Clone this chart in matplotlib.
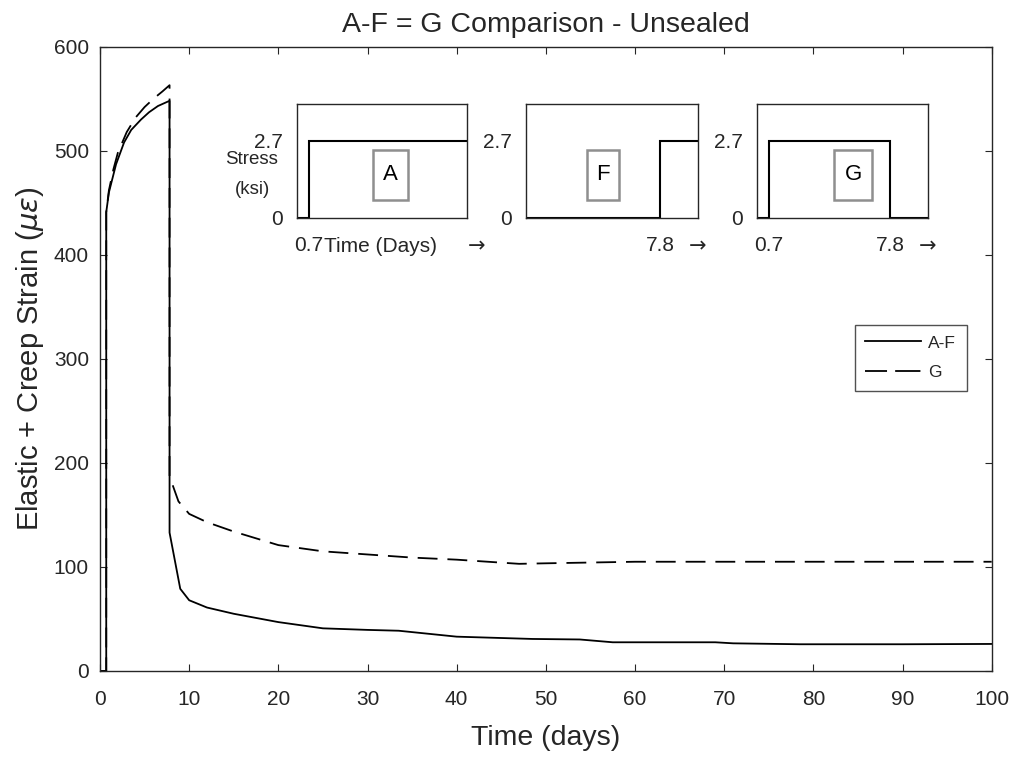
import matplotlib
matplotlib.use("Agg")
import matplotlib.pyplot as plt
from matplotlib.patches import Rectangle

plt.rcParams['font.family'] = ['Liberation Sans', 'DejaVu Sans']
plt.rcParams['mathtext.fontset'] = 'dejavusans'

TXT = '#262626'

# Strain histories (days, microstrain)
t_af = [0, 0.7, 0.7, 1.0, 1.8, 2.7, 3.5, 4.6, 5.5, 6.5, 7.8, 7.8, 9.0, 10.0,
        12.0, 15.0, 20.0, 25.0, 30.0, 33.5, 40.0, 48.5, 53.8, 57.5, 69.0, 71.0,
        78.5, 90.0, 100.0]
strain_af = [0, 0, 441, 460, 487, 508, 520, 530, 537, 543, 548, 133, 79, 68,
             61, 55, 47, 41, 39.5, 38.7, 33, 30.8, 30.3, 27.6, 27.6, 26.6,
             25.7, 25.7, 26]

t_g = [0, 0.7, 0.7, 1.0, 1.5, 2.0, 3.0, 4.0, 5.0, 6.0, 7.0, 7.8, 7.8, 8.8, 10.0,
       12.0, 15.0, 20.0, 25.0, 30.0, 35.0, 40.0, 47.0, 50.0, 60.0, 100.0]
strain_g = [0, 0, 441, 462, 482, 498, 518, 532, 542, 550, 557, 563, 187, 163, 151,
            143, 134, 121, 115, 112, 109, 107, 103, 103.5, 105, 105]

series_labels = ['A-F', 'G']

# Loading schedules for the inset sketches (days, ksi)
stress_level = 2.7
load_on = 0.7
load_off = 7.8
sched_t = {
    'A': [0, load_on, load_on, 10],
    'F': [0, load_off, load_off, 10],
    'G': [0, load_on, load_on, load_off, load_off, 10],
}
sched_s = {
    'A': [0, 0, stress_level, stress_level],
    'F': [0, 0, stress_level, stress_level],
    'G': [0, 0, stress_level, stress_level, 0, 0],
}

W, H = 1016, 757
fig = plt.figure(figsize=(W / 100, H / 100), dpi=100)
ax_l, ax_r, ax_t, ax_b = 100, 991.7, 46.7, 671
ax = fig.add_axes([ax_l / W, 1 - ax_b / H, (ax_r - ax_l) / W, (ax_b - ax_t) / H])

dash = (0, (11, 5.5))
ax.plot(t_af, strain_af, color='black', lw=1.3, label=series_labels[0])
ax.plot(t_g, strain_g, color='black', lw=1.3, ls=dash, label=series_labels[1])

ax.set_xlim(0, 100)
ax.set_ylim(0, 600)
ax.set_xticks(range(0, 101, 10))
ax.set_yticks(range(0, 601, 100))
ax.tick_params(direction='in', top=True, right=True, length=5, width=0.8,
               labelsize=15, colors=TXT, labelcolor=TXT)
ax.tick_params(axis='x', pad=14)
ax.tick_params(axis='y', pad=8)
for sp in ax.spines.values():
    sp.set_linewidth(1.0)
    sp.set_color(TXT)

ax.set_title('A-F = G Comparison - Unsealed', fontsize=20.5, color=TXT, pad=10.8)
ax.set_xlabel('Time (days)', fontsize=20.5, color=TXT)
ax.xaxis.set_label_coords(0.5, -0.087)
ax.set_ylabel(r'Elastic + Creep Strain ($\mu\epsilon$)', fontsize=21, color=TXT)
ax.yaxis.set_label_coords(-0.061, 0.5)

leg = ax.legend(loc='upper right', bbox_to_anchor=((966.7 - ax_l) / (ax_r - ax_l),
                                                   (ax_b - 325) / (ax_b - ax_t)),
                fontsize=12.5, frameon=True, fancybox=False, handlelength=3.25,
                handletextpad=0.4, borderpad=0.6, labelspacing=0.85,
                borderaxespad=0)
leg.get_frame().set_edgecolor(TXT)
leg.get_frame().set_linewidth(1.0)
leg.legend_handles[1].set_linestyle((0, (12.2, 4.5, 14.0, 4.5)))
for txt in leg.get_texts():
    txt.set_color(TXT)

# Inset loading sketches: left edge, width (px) and label-box centre / width (px)
inset_left = {'A': 296.7, 'F': 526.0, 'G': 757.0}
inset_width = {'A': 170.0, 'F': 172.3, 'G': 171.0}
tag_center = {'A': 390.5, 'F': 602.5, 'G': 853.0}
tag_width = {'A': 35.0, 'F': 32.0, 'G': 37.5}
in_top, in_bot = 104.0, 217.7
in_h = in_bot - in_top
label_row = 246.0

for key in ['A', 'F', 'G']:
    w = inset_width[key]
    iax = fig.add_axes([inset_left[key] / W, 1 - in_bot / H, w / W, in_h / H])
    iax.plot(sched_t[key], sched_s[key], color='black', lw=1.5, solid_joinstyle='miter')
    iax.set_xlim(0, 10)
    iax.set_ylim(0, 4)
    iax.set_yticks([0, stress_level])
    iax.set_yticklabels(['0', '2.7'])
    if key == 'A':
        iax.set_xticks([load_on])
        iax.set_xticklabels(['0.7'])
    elif key == 'F':
        iax.set_xticks([load_off])
        iax.set_xticklabels(['7.8'])
    else:
        iax.set_xticks([load_on, load_off])
        iax.set_xticklabels(['0.7', '7.8'])
    iax.tick_params(length=0, labelsize=15, colors=TXT, labelcolor=TXT)
    iax.tick_params(axis='x', pad=13)
    iax.tick_params(axis='y', pad=10)
    for sp in iax.spines.values():
        sp.set_linewidth(1.0)
        sp.set_color(TXT)

    arrow_px = {'A': 477.0, 'F': 698.0, 'G': 928.0}[key]
    iax.text((arrow_px - inset_left[key]) / w, -(label_row - in_bot) / in_h, '\u2192',
             ha='center', va='center', fontsize=15, color=TXT, family='DejaVu Sans',
             transform=iax.transAxes, clip_on=False)

    # boxed case tag
    cx = (tag_center[key] - inset_left[key]) / w
    cy = (in_bot - 175.0) / in_h
    bw = tag_width[key] / w
    bh = 50.0 / in_h
    iax.add_patch(Rectangle((cx - bw / 2, cy - bh / 2), bw, bh, transform=iax.transAxes,
                            fc='white', ec='#8f8f8f', lw=1.8, zorder=3))
    iax.text(cx, cy, key, ha='center', va='center', fontsize=16, color='black',
             transform=iax.transAxes, zorder=4)

    if key == 'A':
        iax.text((380 - inset_left[key]) / w, -(label_row - in_bot) / in_h, 'Time (Days)',
                 ha='center', va='center', fontsize=15, color=TXT,
                 transform=iax.transAxes, clip_on=False)
        iax.text((252 - inset_left[key]) / w, (in_bot - 160) / in_h, 'Stress',
                 ha='center', va='center', fontsize=13.5, color=TXT,
                 transform=iax.transAxes, clip_on=False)
        iax.text((252 - inset_left[key]) / w, (in_bot - 190) / in_h, '(ksi)',
                 ha='center', va='center', fontsize=13.5, color=TXT,
                 transform=iax.transAxes, clip_on=False)

fig.savefig('out.png', dpi=100, facecolor='white')
